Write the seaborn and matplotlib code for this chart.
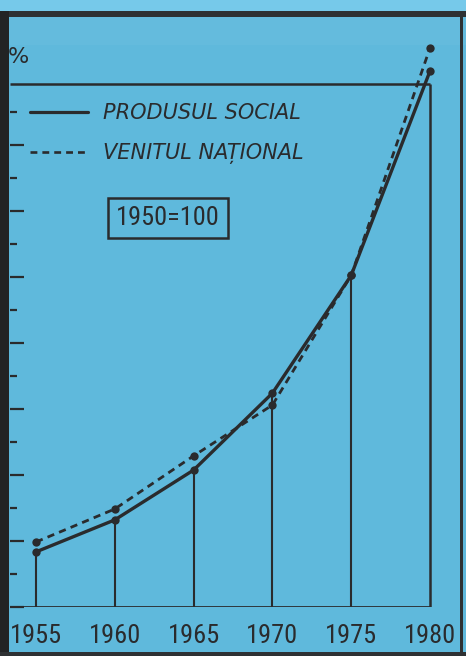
import numpy as np
import pandas as pd
import matplotlib
matplotlib.use("Agg")
import matplotlib.pyplot as plt
import seaborn as sns
from matplotlib.lines import Line2D
from matplotlib.patches import Rectangle

# Date (indici, 1950 = 100)
ani = [1955, 1960, 1965, 1970, 1975, 1980]
produsul_social = [167, 264, 415, 648, 1005, 1624]
venitul_national = [197, 297, 458, 612, 1005, 1694]
etichete_ani = ["1955", "1960", "1965", "1970", "1975", "1980"]
serii = ["PRODUSUL SOCIAL", "VENITUL NAȚIONAL"]
nota = "1950=100"
cadru_sus = 1585          # linia orizontala de sus a cadrului
ticks_majore = list(range(0, 1401, 200))
ticks_minore = list(range(100, 1501, 200))

ALBASTRU = "#5fb9dc"
CERNEALA = "#2a2b2d"
MARGINE = "#2e3133"
W, H = 466, 656

df = pd.DataFrame({"an": ani, "produs": produsul_social, "venit": venitul_national})

sns.set_style("white")
plt.rcParams["font.family"] = ["DejaVu Sans"]
cifre = ["Roboto Condensed", "Roboto", "DejaVu Sans"]

fig = plt.figure(figsize=(W / 100, H / 100), dpi=100, facecolor=ALBASTRU)

# axa: stanga x=10px, jos y=607px, sus y=30px
ax = fig.add_axes([10 / W, (H - 607) / H, (W - 10) / W, (607 - 30) / H])
ax.set_facecolor("none")
px_an = (430 - 36) / 25.0
x0 = 1955 - (36 - 10) / px_an
ax.set_xlim(x0, x0 + (W - 10) / px_an)
ax.set_ylim(0, (607 - 30) * 200 / 66.0)
for s in ax.spines.values():
    s.set_visible(False)

# cadrul si liniile verticale
ax.hlines(0, x0, ani[-1], color=CERNEALA, lw=2.0, zorder=2)
ax.hlines(cadru_sus, x0, ani[-1], color=CERNEALA, lw=1.8, zorder=2)
ax.vlines(ani[-1], 0, cadru_sus, color=CERNEALA, lw=1.8, zorder=2)
ax.vlines(ani[:-1], 0, produsul_social[:-1], color=CERNEALA, lw=1.5, zorder=2)

# curbele
sns.lineplot(data=df, x="an", y="produs", ax=ax, color=CERNEALA, lw=2.4,
             marker="o", markersize=6, markeredgewidth=0, clip_on=False, zorder=3)
sns.lineplot(data=df, x="an", y="venit", ax=ax, color=CERNEALA, lw=2.0,
             marker="o", markersize=6, markeredgewidth=0, clip_on=False, zorder=3)
ax.lines[-1].set_dashes((2.6, 1.9))

ax.set_xlabel("")
ax.set_ylabel("")
ax.set_xticks(ani)
ax.set_xticklabels(etichete_ani, family=cifre, fontsize=19, color=CERNEALA)
ax.tick_params(axis="x", length=0, pad=12)
ax.set_yticks(ticks_majore)
ax.set_yticks(ticks_minore, minor=True)
ax.set_yticklabels([])
ax.tick_params(axis="y", which="major", direction="in", length=10, width=1.6,
               color=CERNEALA, left=True)
ax.tick_params(axis="y", which="minor", direction="in", length=5, width=1.6,
               color=CERNEALA, left=True)

# legenda
h1 = Line2D([], [], color=CERNEALA, lw=2.3)
h2 = Line2D([], [], color=CERNEALA, lw=1.9, dashes=(2.6, 1.9))
leg = ax.legend([h1, h2], serii, loc="upper left", frameon=False,
                bbox_to_anchor=(30 / W, 1 - 103 / H), bbox_transform=fig.transFigure,
                borderpad=0, borderaxespad=0, handlelength=2.8, handletextpad=0.7,
                labelspacing=0.95,
                prop={"family": "DejaVu Sans", "style": "oblique", "size": 15})
for t in leg.get_texts():
    t.set_color(CERNEALA)

fig.text(168 / W, 1 - 218 / H, nota, family=cifre, fontsize=19,
         color=CERNEALA, ha="center", va="center",
         bbox=dict(boxstyle="square,pad=0.3", fc="none", ec=CERNEALA, lw=1.8))
fig.text(18 / W, 1 - 57 / H, "%", fontsize=16, color=CERNEALA, ha="center", va="center")

# marginile fotografiei
fig.add_artist(Rectangle((0, 1 - 45 / H), 1, 28 / H, transform=fig.transFigure,
                         fc="white", alpha=0.035, ec="none", zorder=0.5))
fig.add_artist(Rectangle((0, 1 - 11 / H), 1, 11 / H, transform=fig.transFigure,
                         fc="#76c9ea", ec="none", zorder=6))
fig.add_artist(Rectangle((0, 1 - 17 / H), 1, 6 / H, transform=fig.transFigure,
                         fc=MARGINE, ec="none", zorder=6))
fig.add_artist(Rectangle((0, 0), 9 / W, 1 - 11 / H, transform=fig.transFigure,
                         fc="#222324", ec="none", zorder=6))
fig.add_artist(Rectangle((460 / W, 0), 3 / W, 1 - 11 / H, transform=fig.transFigure,
                         fc=MARGINE, ec="none", zorder=6))
fig.add_artist(Rectangle((0, 0), 1, 4 / H, transform=fig.transFigure,
                         fc=MARGINE, ec="none", zorder=6))

fig.savefig("out.png", dpi=100, facecolor=fig.get_facecolor())
